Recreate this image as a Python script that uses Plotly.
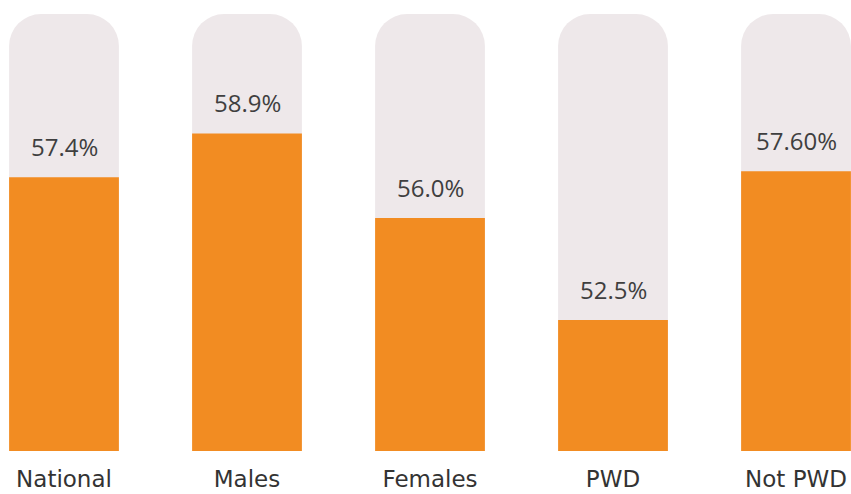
import plotly.graph_objects as go

categories = ["National", "Males", "Females", "PWD", "Not PWD"]
values = [57.4, 58.9, 56.0, 52.5, 57.60]
labels = ["57.4%", "58.9%", "56.0%", "52.5%", "57.60%"]
axis_min = 48
axis_max = 63

ORANGE = "#F28C22"
TRACK = "#EEE8EA"
TEXT = "#3F3F3F"

fig = go.Figure()
fig.add_trace(go.Bar(
    x=categories, y=[axis_max - axis_min] * len(categories), base=axis_min,
    width=0.6, marker=dict(color=TRACK, cornerradius=32, line=dict(width=0)),
    hoverinfo="skip", showlegend=False,
))
fig.add_trace(go.Bar(
    x=categories, y=[v - axis_min for v in values], base=axis_min,
    width=0.6, marker=dict(color=ORANGE, line=dict(width=0)),
    showlegend=False,
))
for c, v, t in zip(categories, values, labels):
    fig.add_annotation(x=c, y=v, text=t, showarrow=False, yanchor="bottom",
                       yshift=12, font=dict(size=24, color=TEXT, family="Open Sans"))

fig.update_layout(
    barmode="overlay",
    width=851, height=494,
    margin=dict(l=0, r=0, t=14, b=43),
    paper_bgcolor="white", plot_bgcolor="white",
    xaxis=dict(range=[-0.3497, 4.3005], showgrid=False, zeroline=False, showline=False,
               ticks="", tickfont=dict(size=23, color="#333333", family="DejaVu Sans"),
               ticklabelstandoff=12, automargin=False),
    yaxis=dict(range=[axis_min, axis_max], visible=False, automargin=False),
)
fig.write_html("out.html", config={"displayModeBar": False},
               post_script="document.body.style.margin='0';document.body.style.padding='0';")
